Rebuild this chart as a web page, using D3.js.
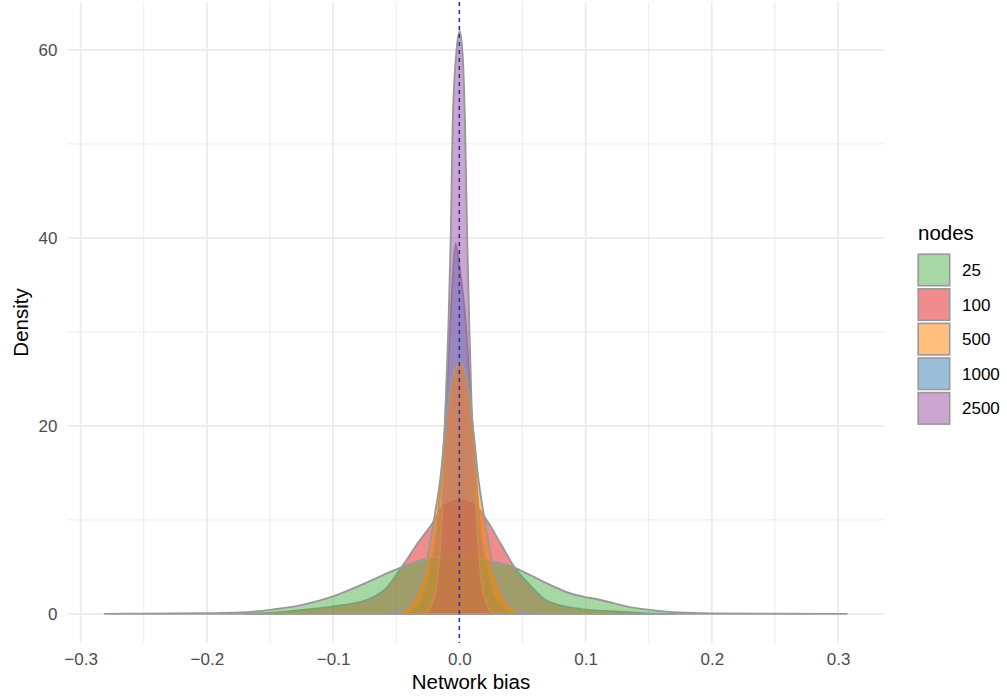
<!DOCTYPE html>
<html>
<head>
<meta charset="utf-8">
<script src="https://cdn.jsdelivr.net/npm/d3@7"></script>
<style>
  body { margin: 0; background: #fff; }
  text { font-family: "Liberation Sans", Arial, sans-serif; }
</style>
</head>
<body>
<svg id="chart"></svg>
<script>
let svgWidth = 1007;
let svgHeight = 697;

// tick labels
const xTicks = [-0.3, -0.2, -0.1, 0, 0.1, 0.2, 0.3];
const xMinor = [-0.25, -0.15, -0.05, 0.05, 0.15, 0.25];
const yTicks = [0, 20, 40, 60];
const yMinor = [10, 30, 50];

// categories (legend order) and colours
const nodeLevels = ["25", "100", "500", "1000", "2500"];
const nodeColors = ["#4DAF4A", "#E41A1C", "#FF7F00", "#377EB8", "#984EA3"];
// groups get drawn in alphabetical level order
const drawOrder = ["100", "1000", "25", "2500", "500"];

// density curves
const bias25 = [-0.281, -0.25, -0.2, -0.174, -0.15, -0.126, -0.1, -0.079, -0.06, -0.047, -0.035, -0.02, 0, 0.012, 0.024, 0.035, 0.044, 0.055, 0.064, 0.075, 0.085, 0.098, 0.111, 0.122, 0.135, 0.151, 0.174, 0.2, 0.25, 0.307];
const dens25 = [0, 0.02, 0.07, 0.14, 0.43, 0.9, 1.85, 3.0, 4.15, 4.9, 5.5, 6.0, 6.3, 6.1, 5.6, 5.3, 4.9, 4.2, 3.6, 2.9, 2.3, 1.84, 1.5, 1.15, 0.72, 0.43, 0.14, 0.05, 0.01, 0];

const bias100 = [-0.17, -0.15, -0.126, -0.1, -0.073, -0.058, -0.0445, -0.033, -0.022, -0.013, 0, 0.013, 0.0215, 0.033, 0.044, 0.057, 0.068, 0.08, 0.097, 0.123, 0.15, 0.17];
const dens100 = [0, 0.1, 0.4, 0.8, 1.5, 2.7, 5.2, 7.5, 9.5, 11.4, 12.1, 11.5, 10, 7.4, 4.9, 2.9, 1.5, 0.9, 0.5, 0.25, 0.05, 0];

const bias500 = [-0.057, -0.047, -0.041, -0.036, -0.032, -0.0265, -0.021, -0.0145, -0.0115, -0.009, -0.006, -0.004, 0, 0.004, 0.006, 0.009, 0.0115, 0.0145, 0.021, 0.0265, 0.032, 0.036, 0.041, 0.047, 0.057];
const dens500 = [0, 0.25, 0.8, 1.8, 2.9, 5, 9.3, 15, 19, 22, 25, 26, 26.8, 26, 25, 22, 19, 15, 9.3, 5, 2.9, 1.8, 0.8, 0.25, 0];

const bias1000 = [-0.045, -0.035, -0.027, -0.021, -0.016, -0.012, -0.0095, -0.0075, -0.0055, -0.003, 0.0, 0.0044, 0.008, 0.012, 0.016, 0.021, 0.027, 0.035, 0.045];
const dens1000 = [0, 0.5, 2.5, 6, 12, 19, 25, 30, 35, 39.4, 37, 32, 25, 17, 10, 5, 2, 0.5, 0];

const bias2500 = [-0.032, -0.025, -0.0215, -0.018, -0.0155, -0.014, -0.0125, -0.011, -0.0088, -0.0068, -0.0053, -0.0025, 0.0003, 0.0028, 0.0045, 0.0062, 0.008, 0.0098, 0.012, 0.0138, 0.0155, 0.018, 0.0215, 0.025, 0.032];
const dens2500 = [0, 0.2, 1.2, 3, 6.5, 10, 15, 21.7, 30, 40, 52, 59.5, 62, 59, 52, 40, 30, 21.7, 15, 10, 6.5, 3, 1.2, 0.2, 0];

const series = {
  "25": [bias25, dens25],
  "100": [bias100, dens100],
  "500": [bias500, dens500],
  "1000": [bias1000, dens1000],
  "2500": [bias2500, dens2500]
};

let panel = {left: 67.5, right: 884, top: 2, bottom: 643};

var svg = d3.select("svg")
  .attr("width", svgWidth)
  .attr("height", svgHeight);

svg.append("rect")
  .attr("width", svgWidth).attr("height", svgHeight)
  .attr("fill", "#fff");

let xScale = d3.scaleLinear()
  .domain([-0.3104, 0.3364])
  .range([panel.left, panel.right]);
let yScale = d3.scaleLinear()
  .domain([-3.1, 65.1])
  .range([panel.bottom, panel.top]);
let fill = d3.scaleOrdinal().domain(nodeLevels).range(nodeColors);

// grid
let grid = svg.append("g").attr("stroke", "#ebebeb");
grid.selectAll(".xminor").data(xMinor).enter().append("line")
  .attr("x1", d => xScale(d)).attr("x2", d => xScale(d))
  .attr("y1", panel.top).attr("y2", panel.bottom)
  .attr("stroke-width", 0.9);
grid.selectAll(".yminor").data(yMinor).enter().append("line")
  .attr("x1", panel.left).attr("x2", panel.right)
  .attr("y1", d => yScale(d)).attr("y2", d => yScale(d))
  .attr("stroke-width", 0.9);
grid.selectAll(".xmajor").data(xTicks).enter().append("line")
  .attr("x1", d => xScale(d)).attr("x2", d => xScale(d))
  .attr("y1", panel.top).attr("y2", panel.bottom)
  .attr("stroke-width", 1.7);
grid.selectAll(".ymajor").data(yTicks).enter().append("line")
  .attr("x1", panel.left).attr("x2", panel.right)
  .attr("y1", d => yScale(d)).attr("y2", d => yScale(d))
  .attr("stroke-width", 1.7);

// densities
let area = d3.area()
  .x(d => xScale(d[0]))
  .y0(yScale(0))
  .y1(d => yScale(d[1]))
  .curve(d3.curveMonotoneX);

svg.append("g")
  .selectAll("path")
  .data(drawOrder)
  .enter()
  .append("path")
    .attr("d", k => area(d3.zip(series[k][0], series[k][1])))
    .attr("fill", k => fill(k))
    .attr("fill-opacity", 0.5)
    .attr("stroke", "#999999")
    .attr("stroke-width", 1.9)
    .attr("stroke-linejoin", "round");

// reference line at zero
svg.append("line")
  .attr("x1", xScale(0)).attr("x2", xScale(0))
  .attr("y1", panel.top).attr("y2", panel.bottom)
  .attr("stroke", "#3232a8")
  .attr("stroke-width", 1.6)
  .attr("stroke-dasharray", "4,4");

// axes
let xAxis = d3.axisBottom(xScale)
  .tickValues(xTicks)
  .tickFormat(d3.format(".1f"))
  .tickSize(0)
  .tickPadding(10);
let yAxis = d3.axisLeft(yScale)
  .tickValues(yTicks)
  .tickSize(0)
  .tickPadding(10);

let gx = svg.append("g")
  .attr("transform", `translate(0, ${panel.bottom})`)
  .call(xAxis);
let gy = svg.append("g")
  .attr("transform", `translate(${panel.left}, 0)`)
  .call(yAxis);
[gx, gy].forEach(g => {
  g.select(".domain").remove();
  g.selectAll("text")
    .attr("font-family", "Liberation Sans, Arial, sans-serif")
    .attr("font-size", 17)
    .attr("fill", "#4d4d4d");
});

// axis titles
svg.append("text")
  .text("Network bias")
  .attr("x", 471)
  .attr("y", 689)
  .attr("font-size", 20.5)
  .attr("text-anchor", "middle");

svg.append("text")
  .text("Density")
  .attr("transform", `translate(28, ${(panel.top + panel.bottom) / 2}) rotate(-90)`)
  .attr("font-size", 20.5)
  .attr("text-anchor", "middle");

// legend
let legend = svg.append("g").attr("transform", "translate(917, 253)");
legend.append("text")
  .text("nodes")
  .attr("x", 1)
  .attr("y", -13)
  .attr("font-size", 20.5);

let keys = legend.selectAll(".key")
  .data(nodeLevels)
  .enter()
  .append("g")
    .attr("transform", (d, i) => `translate(0, ${i * 34.6})`);
keys.append("rect")
  .attr("x", 1.2).attr("y", 1.2)
  .attr("width", 31.5).attr("height", 31.5)
  .attr("fill", d => fill(d))
  .attr("fill-opacity", 0.5)
  .attr("stroke", "#999999")
  .attr("stroke-width", 1.6);
keys.append("text")
  .text(d => d)
  .attr("x", 45)
  .attr("y", 17)
  .attr("dy", "0.35em")
  .attr("font-size", 17);
</script>
</body>
</html>
